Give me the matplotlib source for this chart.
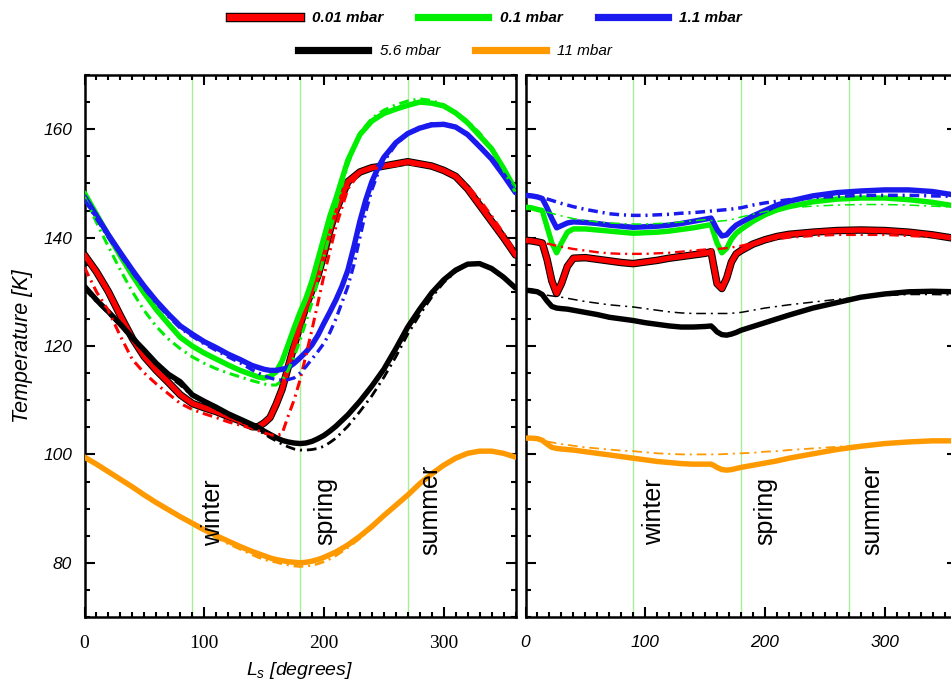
import matplotlib
matplotlib.use("Agg")
import matplotlib.pyplot as plt
import matplotlib.patheffects as pe
from matplotlib.lines import Line2D
from matplotlib.ticker import MultipleLocator

plt.rcParams["font.family"] = ["Liberation Sans", "DejaVu Sans"]
plt.rcParams["mathtext.fontset"] = "custom"
plt.rcParams["mathtext.it"] = "Liberation Sans:italic"
plt.rcParams["mathtext.rm"] = "Liberation Sans"
plt.rcParams["lines.scale_dashes"] = False

# ---- left panel data (Ls in degrees, T in K) ----
LS_LEFT = [0, 10, 20, 30, 40, 50, 60, 70, 80, 90, 100, 110, 120, 130, 140, 145,
           150, 155, 160, 165, 170, 175, 180, 185, 190, 195, 200, 205, 210, 220,
           230, 240, 250, 260, 270, 280, 290, 300, 310, 320, 330, 340, 350, 360]

L_RED = [136.8, 133.7, 130.0, 125.6, 121.4, 118.0, 115.5, 113.3, 111.0, 109.4, 108.6,
         107.9, 107.0, 106.2, 105.1, 105.1, 105.8, 106.8, 109.2, 112.0, 116.0, 120.0,
         123.8, 127.3, 130.3, 133.0, 137.0, 141.3, 145.0, 150.3, 152.1, 152.9, 153.2,
         153.6, 154.0, 153.6, 153.2, 152.4, 151.3, 149.0, 146.0, 143.0, 140.0, 136.8]
L_RED_DD = [134.5, 130.0, 126.5, 121.8, 117.5, 115.0, 113.0, 111.2, 109.4, 108.3, 107.5,
            106.8, 106.0, 105.4, 104.8, 104.4, 104.0, 103.6, 103.5, 103.8, 107.0, 110.0,
            113.7, 118.3, 123.0, 128.0, 133.0, 137.5, 142.0, 149.0, 152.0, 152.7, 153.0,
            153.3, 153.6, 153.4, 153.0, 152.3, 151.5, 149.5, 147.0, 144.0, 140.8, 137.3]
L_GREEN = [148.2, 144.3, 140.4, 136.6, 133.0, 129.7, 126.7, 124.1, 121.6, 120.0, 118.7,
           117.6, 116.5, 115.5, 114.7, 114.3, 114.1, 114.4, 115.2, 117.2, 120.2, 123.3,
           126.2, 128.8, 132.0, 136.0, 140.0, 144.0, 147.2, 154.3, 159.0, 161.5, 162.9,
           163.7, 164.4, 165.0, 164.8, 164.3, 163.0, 161.2, 158.8, 156.4, 152.8, 148.8]
L_GREEN_DD = [147.5, 142.8, 138.3, 134.0, 130.0, 126.5, 123.6, 121.3, 119.5, 118.0, 116.8,
              115.8, 115.0, 114.3, 113.6, 113.3, 113.0, 112.8, 112.8, 113.6, 115.5, 118.0,
              121.0, 124.5, 128.0, 132.0, 136.5, 141.0, 145.5, 153.5, 159.3, 162.0, 163.5,
              164.5, 165.2, 165.6, 165.3, 164.5, 163.2, 161.5, 159.3, 156.5, 152.5, 148.3]
L_BLACK = [131.0, 128.5, 126.3, 124.0, 121.5, 119.2, 116.8, 114.8, 113.4, 111.0, 109.8,
           108.7, 107.5, 106.5, 105.5, 105.0, 104.3, 103.7, 103.1, 102.6, 102.3, 102.1,
           102.0, 102.1, 102.4, 102.9, 103.5, 104.3, 105.2, 107.3, 109.8, 112.6, 115.7,
           119.5, 123.5, 126.8, 129.8, 132.2, 134.0, 135.1, 135.2, 134.3, 132.7, 130.7]
L_BLACK_DD = [130.5, 128.2, 126.0, 123.7, 121.2, 118.9, 116.5, 114.5, 112.8, 110.8, 109.5,
              108.4, 107.2, 106.2, 105.1, 104.5, 103.8, 103.1, 102.5, 101.9, 101.4, 101.0,
              100.8, 100.8, 100.9, 101.1, 101.5, 102.2, 103.0, 105.2, 107.9, 110.8, 114.2,
              118.0, 122.2, 125.8, 129.0, 131.7, 133.7, 135.0, 135.2, 134.3, 132.7, 130.7]
L_ORANGE = [99.5, 98.2, 96.8, 95.4, 94.0, 92.5, 91.1, 89.8, 88.5, 87.3, 86.1, 85.0, 84.0,
            83.0, 82.1, 81.7, 81.3, 80.9, 80.6, 80.4, 80.2, 80.1, 80.0, 80.1, 80.3, 80.6,
            81.0, 81.5, 82.0, 83.3, 84.9, 86.7, 88.7, 90.6, 92.5, 94.6, 96.4, 98.0, 99.3,
            100.2, 100.6, 100.6, 100.2, 99.5]
L_ORANGE_DD = [99.3, 98.0, 96.6, 95.2, 93.8, 92.3, 90.9, 89.6, 88.3, 87.0, 85.8, 84.6,
               83.5, 82.5, 81.5, 81.0, 80.6, 80.3, 80.1, 79.8, 79.6, 79.4, 79.3, 79.4,
               79.5, 79.8, 80.2, 80.7, 81.3, 82.8, 84.5, 86.4, 88.5, 90.5, 92.4, 94.5,
               96.3, 97.9, 99.2, 100.1, 100.5, 100.6, 100.2, 99.5]

# the 1.1 mbar curves need a finer Ls grid on their late rise
LS_LEFT_BLUE = [0, 10, 20, 30, 40, 50, 60, 70, 80, 90, 100, 110, 120, 130, 140, 150,
                155, 160, 165, 170, 175, 180, 185, 190, 195, 200, 205, 210, 215, 220,
                225, 230, 235, 240, 245, 250, 260, 270, 280, 290, 300, 310, 320, 330,
                340, 350, 360]
L_BLUE = [147.5, 144.0, 140.5, 137.2, 134.0, 131.0, 128.3, 125.9, 123.7, 122.2, 120.8,
          119.7, 118.5, 117.5, 116.4, 115.7, 115.5, 115.5, 115.7, 116.0, 116.8, 117.8,
          118.9, 120.2, 122.0, 124.2, 126.3, 128.5, 131.0, 134.0, 138.3, 143.0, 147.0,
          150.3, 152.8, 154.8, 157.5, 159.2, 160.2, 160.8, 160.9, 160.4, 159.0, 156.8,
          154.5, 151.5, 148.3]
L_BLUE_DD = [147.0, 143.5, 140.0, 136.8, 133.6, 130.6, 127.9, 125.5, 123.3, 121.8, 120.4,
             119.2, 118.0, 116.9, 115.6, 114.5, 114.1, 113.8, 113.7, 113.8, 114.1, 115.0,
             116.2, 117.6, 119.0, 120.5, 122.5, 125.0, 128.0, 131.0, 135.0, 140.0, 144.8,
             148.8, 151.8, 154.0, 157.2, 159.1, 160.4, 161.0, 161.0, 160.5, 159.2, 157.0,
             154.6, 151.5, 148.3]

# ---- right panel data ----
LS_RIGHT = [0, 5, 10, 14, 18, 22, 26, 30, 35, 40, 50, 60, 70, 80, 90, 100, 110, 120,
            130, 140, 150, 155, 157, 160, 164, 168, 172, 176, 180, 190, 200, 210, 220,
            240, 260, 280, 300, 320, 340, 360]

R_RED = [139.5, 139.4, 139.2, 139.0, 136.0, 132.0, 129.7, 131.5, 134.7, 136.2, 136.3,
         136.0, 135.7, 135.4, 135.2, 135.5, 135.8, 136.2, 136.5, 136.8, 137.1, 137.4,
         135.0, 131.5, 130.6, 132.5, 135.5, 137.0, 137.6, 138.8, 139.6, 140.2, 140.6,
         141.0, 141.3, 141.4, 141.3, 141.0, 140.5, 139.8]
R_GREEN = [145.6, 145.5, 145.2, 145.0, 142.0, 139.0, 137.2, 139.0, 141.0, 141.6, 141.6,
           141.4, 141.2, 141.0, 140.8, 140.9, 141.0, 141.2, 141.5, 141.8, 142.2, 142.4,
           141.0, 139.0, 137.2, 138.0, 139.7, 140.8, 141.5, 143.0, 144.2, 145.1, 145.7,
           146.6, 147.1, 147.3, 147.3, 147.0, 146.5, 145.8]
R_BLUE = [147.8, 147.7, 147.5, 147.2, 145.5, 143.5, 141.8, 142.2, 142.7, 142.9, 142.8,
          142.6, 142.3, 142.1, 141.9, 142.0, 142.1, 142.3, 142.6, 143.0, 143.4, 143.6,
          142.8, 141.5, 140.3, 140.5, 141.5, 142.3, 142.8, 144.0, 145.0, 146.0, 146.7,
          147.7, 148.3, 148.6, 148.8, 148.8, 148.5, 147.8]
R_BLACK = [130.3, 130.2, 130.0, 129.5, 128.3, 127.3, 127.0, 126.9, 126.8, 126.6, 126.2,
           125.8, 125.3, 125.0, 124.7, 124.3, 124.0, 123.7, 123.5, 123.5, 123.6, 123.7,
           123.3, 122.6, 122.1, 122.0, 122.2, 122.5, 122.9, 123.6, 124.3, 125.0, 125.7,
           127.0, 128.0, 129.0, 129.6, 130.0, 130.1, 130.0]
R_ORANGE = [103.0, 103.0, 102.9, 102.6, 101.9, 101.3, 101.1, 101.0, 100.9, 100.8, 100.5,
            100.2, 99.9, 99.6, 99.3, 99.0, 98.7, 98.5, 98.3, 98.2, 98.2, 98.2, 98.0, 97.6,
            97.2, 97.1, 97.2, 97.4, 97.6, 98.0, 98.4, 98.8, 99.3, 100.1, 100.9, 101.5,
            102.0, 102.3, 102.5, 102.5]

LS_RIGHT_DD = [0, 10, 20, 30, 40, 50, 60, 70, 80, 90, 100, 110, 120, 130, 140, 150, 160,
               170, 180, 190, 200, 210, 220, 240, 260, 280, 300, 320, 340, 360]
R_RED_DD = [139.5, 139.2, 138.8, 138.3, 137.9, 137.6, 137.3, 137.1, 137.0, 137.0, 137.0,
            137.1, 137.2, 137.4, 137.6, 137.8, 137.9, 138.1, 138.5, 139.0, 139.4, 139.7,
            140.0, 140.3, 140.5, 140.5, 140.5, 140.3, 140.1, 139.8]
R_GREEN_DD = [145.6, 145.2, 144.6, 144.0, 143.5, 143.2, 142.9, 142.7, 142.6, 142.5, 142.5,
              142.6, 142.7, 142.9, 143.1, 143.3, 143.0, 143.2, 143.8, 144.3, 144.8, 145.2,
              145.5, 145.8, 146.0, 146.1, 146.1, 146.0, 145.8, 145.6]
R_BLUE_DD = [147.8, 147.6, 147.0, 146.3, 145.7, 145.2, 144.8, 144.4, 144.2, 144.1, 144.1,
             144.2, 144.3, 144.5, 144.6, 144.8, 145.0, 145.2, 145.5, 146.0, 146.4, 146.7,
             147.0, 147.4, 147.6, 147.8, 147.8, 147.8, 147.7, 147.6]
R_BLACK_DD = [130.0, 129.7, 129.3, 129.0, 128.6, 128.2, 127.9, 127.6, 127.4, 127.2, 126.9,
              126.6, 126.3, 126.1, 126.0, 126.0, 126.0, 126.0, 126.2, 126.6, 127.0, 127.3,
              127.6, 128.1, 128.6, 129.0, 129.3, 129.5, 129.5, 129.4]
R_ORANGE_DD = [103.0, 102.8, 102.3, 101.9, 101.6, 101.3, 101.1, 100.9, 100.7, 100.6, 100.4,
               100.2, 100.1, 100.0, 100.0, 100.0, 100.0, 100.1, 100.2, 100.3, 100.5, 100.6,
               100.8, 101.1, 101.4, 101.7, 102.0, 102.2, 102.3, 102.3]

LABELS = ["0.01 mbar", "0.1 mbar", "1.1 mbar", "5.6 mbar", "11 mbar"]
COLORS = ["#ff0000", "#00ee00", "#1a1aee", "#000000", "#ff9900"]
X_TICKS = [0, 100, 200, 300]
Y_TICKS = [80, 100, 120, 140, 160]
SEASON_LS = [90, 180, 270]
SEASON_NAMES = ["winter", "spring", "summer"]
SEASON_POS_LEFT = [(107, 89.3), (201, 89.5), (289, 89.8)]
SEASON_POS_RIGHT = [(107, 89.5), (200, 89.5), (290, 89.8)]

DASHDOT = (0, (7, 3.5, 1.5, 3.5))
RED_EDGE = [pe.Stroke(linewidth=5.4, foreground="k"), pe.Normal()]


def style_axes(ax, serif_x, ylabels):
    ax.set_xlim(0, 360)
    ax.set_ylim(70, 170)
    ax.set_xticks(X_TICKS)
    ax.set_yticks(Y_TICKS)
    ax.xaxis.set_minor_locator(MultipleLocator(10))
    ax.yaxis.set_minor_locator(MultipleLocator(5))
    ax.tick_params(which="both", direction="in", top=True, right=True, width=1.5)
    ax.tick_params(which="major", length=7)
    ax.tick_params(which="minor", length=3.5)
    ax.tick_params(axis="x", pad=13)
    ax.tick_params(axis="y", pad=9)
    for s in ax.spines.values():
        s.set_linewidth(1.8)
    xl = [str(v) for v in X_TICKS]
    if serif_x:
        ax.set_xticklabels(xl, fontfamily="Liberation Serif", fontsize=14)
    else:
        ax.set_xticklabels(xl, fontstyle="italic", fontsize=12.5)
    if ylabels:
        ax.set_yticklabels([str(v) for v in Y_TICKS], fontstyle="italic", fontsize=12.5)
    else:
        ax.set_yticklabels([])
    for ls in SEASON_LS:
        ax.axvline(ls, color="#a6f095", lw=1.0, zorder=1)


def draw_panel(ax, solids, dds, dd_widths):
    order = [4, 0, 3, 1, 2]  # orange, red, black, green, blue
    for i in order:
        kw = dict(color=COLORS[i], lw=3.9, solid_capstyle="round", zorder=3)
        if i == 0:
            kw["path_effects"] = RED_EDGE
        ax.plot(solids[i][0], solids[i][1], **kw)
        ax.plot(dds[i][0], dds[i][1], color=COLORS[i], lw=dd_widths[i],
                linestyle=DASHDOT, zorder=4)


fig = plt.figure(figsize=(9.51, 6.87), dpi=100)
ax1 = fig.add_axes([84.5 / 951, 70 / 687, 431 / 951, 542 / 687])
ax2 = fig.add_axes([525.5 / 951, 70 / 687, 431 / 951, 542 / 687])

draw_panel(ax1,
           [(LS_LEFT, L_RED), (LS_LEFT, L_GREEN), (LS_LEFT_BLUE, L_BLUE),
            (LS_LEFT, L_BLACK), (LS_LEFT, L_ORANGE)],
           [(LS_LEFT, L_RED_DD), (LS_LEFT, L_GREEN_DD), (LS_LEFT_BLUE, L_BLUE_DD),
            (LS_LEFT, L_BLACK_DD), (LS_LEFT, L_ORANGE_DD)],
           [2.2, 2.2, 2.4, 2.0, 1.8])
draw_panel(ax2,
           [(LS_RIGHT, R_RED), (LS_RIGHT, R_GREEN), (LS_RIGHT, R_BLUE),
            (LS_RIGHT, R_BLACK), (LS_RIGHT, R_ORANGE)],
           [(LS_RIGHT_DD, R_RED_DD), (LS_RIGHT_DD, R_GREEN_DD), (LS_RIGHT_DD, R_BLUE_DD),
            (LS_RIGHT_DD, R_BLACK_DD), (LS_RIGHT_DD, R_ORANGE_DD)],
           [1.7, 1.1, 2.5, 1.1, 1.3])

style_axes(ax1, serif_x=True, ylabels=True)
style_axes(ax2, serif_x=False, ylabels=False)

for ax, pos_list in [(ax1, SEASON_POS_LEFT), (ax2, SEASON_POS_RIGHT)]:
    for name, (x, y) in zip(SEASON_NAMES, pos_list):
        ax.text(x, y, name, rotation=90, ha="center", va="center", fontsize=18, zorder=5)

ax1.set_ylabel("Temperature [K]", fontsize=15.5, fontstyle="italic")
ax1.yaxis.set_label_coords((33 - 84.5) / 431, 0.5)
ax1.set_xlabel(r"$L_s$ [degrees]", fontsize=14, fontstyle="italic")
ax1.xaxis.set_label_coords(0.5, (617 - 660) / 542)

# legend, two rows
handles = []
for i, c in enumerate(COLORS):
    h = Line2D([], [], color=c, lw=5.2)
    if i == 0:
        h.set_path_effects([pe.Stroke(linewidth=6.8, foreground="k"), pe.Normal()])
    handles.append(h)

common = dict(loc="center left", frameon=False, borderpad=0, borderaxespad=0,
              handlelength=4.6, handletextpad=0.75, columnspacing=2.3)
fig.legend(handles[:3], LABELS[:3], ncol=3, bbox_to_anchor=(230 / 951, 1 - 18 / 687),
           prop=dict(family="Liberation Sans", style="italic", weight="bold", size=11),
           **common)
fig.legend(handles[3:], LABELS[3:], ncol=2, bbox_to_anchor=(298 / 951, 1 - 51 / 687),
           prop=dict(family="Liberation Sans", style="italic", size=11),
           **common)

fig.savefig("out.png", dpi=100)
